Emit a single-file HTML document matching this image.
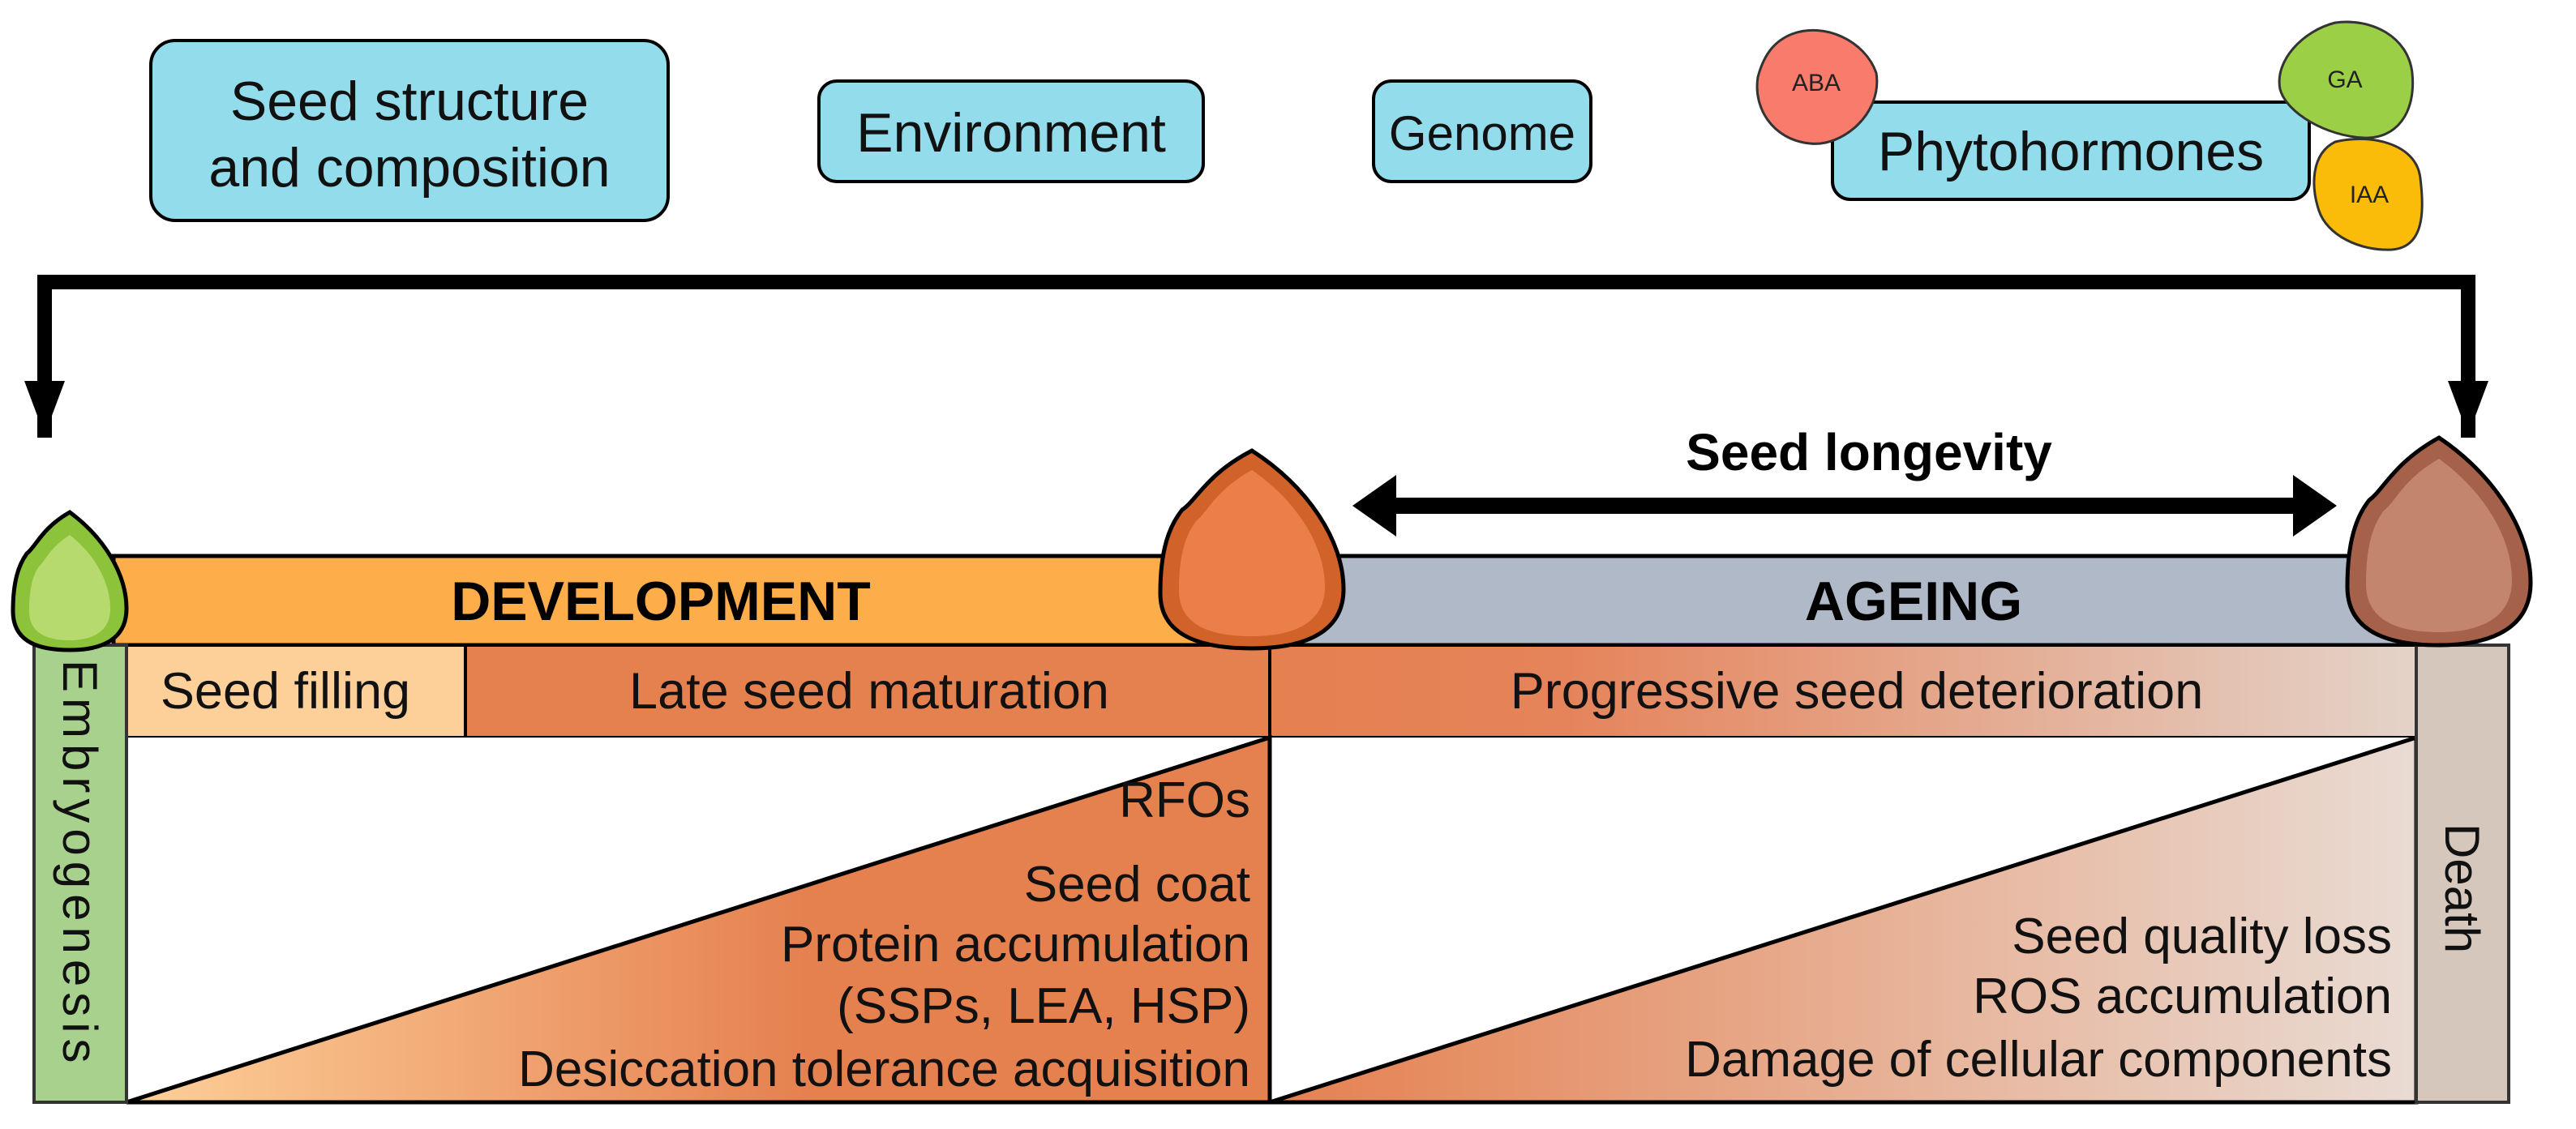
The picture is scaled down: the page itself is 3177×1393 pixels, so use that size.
<!DOCTYPE html>
<html><head><meta charset="utf-8"><style>html,body{margin:0;padding:0;background:#fff}svg{display:block}</style></head>
<body>
<svg width="3177" height="1393" viewBox="0 0 3177 1393" xmlns="http://www.w3.org/2000/svg" font-family="Liberation Sans, Arial, sans-serif">
<defs>
<linearGradient id="g1" x1="0" y1="0" x2="1" y2="0"><stop offset="0" stop-color="#fdd09a"/><stop offset="0.6" stop-color="#e5804f"/><stop offset="1" stop-color="#e5804f"/></linearGradient>
<linearGradient id="g2" x1="0" y1="0" x2="1" y2="0"><stop offset="0" stop-color="#e5804f"/><stop offset="1" stop-color="#e9dbd3"/></linearGradient>
<linearGradient id="g3" x1="0" y1="0" x2="1" y2="0"><stop offset="0" stop-color="#e5804f"/><stop offset="0.25" stop-color="#e5835a"/><stop offset="1" stop-color="#e4d3c9"/></linearGradient>
</defs>

<!-- top boxes -->
<g stroke="#000" stroke-width="4" fill="#92dcec">
<rect x="186" y="50" width="638" height="222" rx="30"/>
<rect x="1010" y="100" width="474" height="124" rx="22"/>
<rect x="1694" y="100" width="268" height="124" rx="22"/>
<rect x="2260" y="126" width="588" height="120" rx="22"/>
</g>
<g font-size="68" text-anchor="middle" fill="#111">
<text x="505" y="148">Seed structure</text>
<text x="505" y="230">and composition</text>
<text x="1247" y="187">Environment</text>
<text x="1828" y="185" font-size="60">Genome</text>
<text x="2554" y="210">Phytohormones</text>
</g>
<g stroke="#333" stroke-width="3">
<path d="M2210 42 C2250 27 2300 50 2314 90 C2322 140 2272 182 2232 177 C2185 172 2162 132 2168 95 C2176 65 2190 50 2210 42 Z" fill="#f97b6b"/>
<path d="M2880 28 C2925 22 2970 45 2975 90 C2980 140 2955 172 2915 170 C2870 168 2820 140 2812 110 C2805 75 2840 38 2880 28 Z" fill="#9bcf45"/>
<path d="M2880 175 C2920 165 2980 175 2985 220 C2990 260 2990 305 2950 308 C2910 310 2870 290 2860 260 C2850 230 2850 190 2880 175 Z" fill="#fbbc09"/>
</g>
<g font-size="30" text-anchor="middle" fill="#222">
<text x="2240" y="112">ABA</text>
<text x="2892" y="108">GA</text>
<text x="2922" y="250">IAA</text>
</g>

<!-- big arrow -->
<path d="M55 540 V348 H3044 V540" fill="none" stroke="#000" stroke-width="18"/>
<polygon points="30,470 80,470 55,537" fill="#000"/>
<polygon points="3019,470 3069,470 3044,537" fill="#000"/>

<!-- seed longevity -->
<text x="2305" y="580" font-size="64" font-weight="bold" text-anchor="middle">Seed longevity</text>
<rect x="1720" y="614" width="1110" height="20" fill="#000"/>
<polygon points="1668,624 1722,586 1722,662" fill="#000"/>
<polygon points="2882,624 2828,586 2828,662" fill="#000"/>

<!-- bars -->
<rect x="140" y="686" width="1426" height="110" fill="#fdae4b" stroke="#000" stroke-width="5"/>
<rect x="1566" y="686" width="1414" height="110" fill="#b0b9c8" stroke="#000" stroke-width="5"/>
<text x="815" y="765" font-size="68" font-weight="bold" text-anchor="middle">DEVELOPMENT</text>
<text x="2360" y="765" font-size="68" font-weight="bold" text-anchor="middle">AGEING</text>

<rect x="156" y="796" width="418" height="114" fill="#fdd09a" stroke="#000" stroke-width="4"/>
<rect x="574" y="796" width="992" height="114" fill="#e5804f" stroke="#000" stroke-width="4"/>
<rect x="1566" y="796" width="1414" height="114" fill="url(#g3)" stroke="#000" stroke-width="4"/>
<g font-size="63" text-anchor="middle" fill="#111">
<text x="352" y="874">Seed filling</text>
<text x="1072" y="874">Late seed maturation</text>
<text x="2290" y="874">Progressive seed deterioration</text>
</g>

<!-- triangles -->
<rect x="156" y="910" width="2824" height="450" fill="#fff"/>
<polygon points="156,1360 1566,910 1566,1360" fill="url(#g1)" stroke="#000" stroke-width="5"/>
<polygon points="1566,1360 2980,910 2980,1360" fill="url(#g2)" stroke="#000" stroke-width="5"/>
<line x1="156" y1="1360" x2="2980" y2="1360" stroke="#000" stroke-width="5"/>
<line x1="1566" y1="796" x2="1566" y2="1360" stroke="#000" stroke-width="4"/>
<g font-size="62" text-anchor="end" fill="#111">
<text x="1542" y="1008">RFOs</text>
<text x="1542" y="1112">Seed coat</text>
<text x="1542" y="1186">Protein accumulation</text>
<text x="1542" y="1262">(SSPs, LEA, HSP)</text>
<text x="1542" y="1340">Desiccation tolerance acquisition</text>
<text x="2950" y="1176">Seed quality loss</text>
<text x="2950" y="1250">ROS accumulation</text>
<text x="2950" y="1328">Damage of cellular components</text>
</g>

<!-- side columns -->
<rect x="42" y="796" width="114" height="564" fill="#a9d18e" stroke="#333" stroke-width="4"/>
<rect x="2980" y="796" width="114" height="564" fill="#d6c7bc" stroke="#333" stroke-width="4"/>
<text transform="translate(78,814) rotate(90)" font-size="60" letter-spacing="7" fill="#111">Embryogenesis</text>
<text transform="translate(3016,1016) rotate(90)" font-size="60" fill="#111">Death</text>

<!-- seeds -->
<path d="M86,632 C128,663 156,708 156,751 C156,794 117,802 86,802 C51,802 16,794 16,754 C16,717 23,697 33,683 C44,675 51,652 86,632 Z" fill="#8cc33a" stroke="#000" stroke-width="5"/>
<path d="M86,660 C116,683 136,718 136,751 C136,783 108,790 86,790 C61,790 36,783 36,754 C36,725 41,709 48,699 C56,692 61,676 86,660 Z" fill="#b7da6e"/>
<path d="M1544,556 C1612,600 1657,666 1657,727 C1657,788 1594,800 1544,800 C1488,800 1431,788 1431,732 C1431,678 1442,649 1458,629 C1476,617 1488,585 1544,556 Z" fill="#d0622a" stroke="#000" stroke-width="5"/>
<path d="M1544,580 C1598,617 1634,672 1634,724 C1634,775 1584,785 1544,785 C1499,785 1454,775 1454,728 C1454,683 1463,658 1476,642 C1490,631 1499,605 1544,580 Z" fill="#eb7f4a"/>
<path d="M3008,540 C3076,586 3121,655 3121,719 C3121,783 3058,796 3008,796 C2952,796 2895,783 2895,724 C2895,668 2906,637 2922,617 C2940,604 2952,571 3008,540 Z" fill="#a5614a" stroke="#000" stroke-width="5"/>
<path d="M3008,566 C3062,605 3098,662 3098,716 C3098,769 3048,780 3008,780 C2963,780 2918,769 2918,720 C2918,673 2927,647 2940,630 C2954,620 2963,592 3008,566 Z" fill="#c3856d"/>
</svg>
</body></html>
